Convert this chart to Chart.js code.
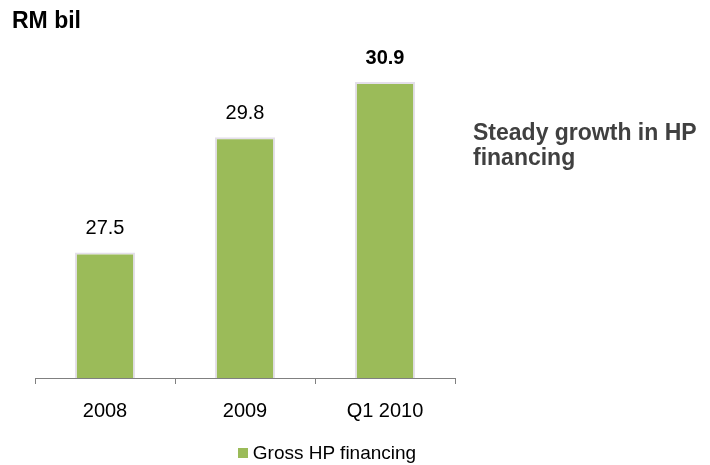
<!DOCTYPE html>
<html>
<head>
<meta charset="utf-8">
<script src="https://cdn.jsdelivr.net/npm/chart.js@4.4.1/dist/chart.umd.min.js"></script>
<style>
    body { margin: 0; background: #fff; font-family: Arial, "Liberation Sans", sans-serif; }
    #wrap { position: relative; width: 710px; height: 465px; }
    #chart { position: absolute; left: 0; top: 0; }
    .unit { position: absolute; left: 12px; top: 7px; font-size: 23px; font-weight: bold; color: #000; }
    .note { position: absolute; left: 473px; top: 120px; font-size: 23px; font-weight: bold; color: #404040; line-height: 25px; }
    #legend { position: absolute; left: 0; top: 442px; width: 654px; text-align: center; font-size: 19px; line-height: 22px; color: #000; }
    #legend span.box { display: inline-block; width: 10px; height: 10px; margin-right: 5px; vertical-align: 1px; }
</style>
</head>
<body>
<div id="wrap">
    <canvas id="chart" width="710" height="465"></canvas>
    <div class="unit">RM bil</div>
    <div class="note">Steady growth in HP<br>financing</div>
    <div id="legend"></div>
</div>
<script>
const categories = ['2008', '2009', 'Q1 2010']
const grossHpFinancing = [27.5, 29.8, 30.9]
const seriesLabel = 'Gross HP financing'

// value labels on top of bars, last one bold
const valueLabels = {
    id: 'valueLabels',
    afterDatasetsDraw(chart) {
        const ctx = chart.ctx
        const meta = chart.getDatasetMeta(0)
        ctx.save()
        ctx.textAlign = 'center'
        ctx.textBaseline = 'middle'
        ctx.fillStyle = '#000'
        meta.data.forEach((bar, i) => {
            const last = i === meta.data.length - 1
            ctx.font = (last ? 'bold ' : '') + '20px Arial, "Liberation Sans", sans-serif'
            ctx.fillText(grossHpFinancing[i].toFixed(1), bar.x, bar.y - 24)
        })
        ctx.restore()
    }
}

const chart = new Chart(document.getElementById('chart').getContext('2d'), {
    type: 'bar',
    data: {
        labels: categories,
        datasets: [{
            label: seriesLabel,
            data: grossHpFinancing,
            backgroundColor: '#9BBB59',
            borderColor: '#e4dfea',
            borderWidth: 2,
            borderSkipped: 'bottom',
            categoryPercentage: 1,
            barPercentage: 0.43,
        }]
    },
    options: {
        responsive: false,
        animation: false,
        layout: { padding: { left: 35, right: 255, top: 52, bottom: 27 } },
        plugins: {
            legend: { display: false },
            tooltip: { enabled: false },
        },
        scales: {
            x: {
                offset: true,
                grid: { offset: true, drawOnChartArea: false, tickLength: 6, color: '#808080' },
                border: { color: '#808080', width: 1 },
                ticks: { color: '#000', padding: 15, font: { size: 20, family: 'Arial, "Liberation Sans", sans-serif' } },
            },
            y: {
                display: false,
                min: 25,
                max: 31.5,
            }
        }
    },
    plugins: [valueLabels]
})

// html legend built from the dataset
const ds = chart.data.datasets[0]
document.getElementById('legend').innerHTML =
    '<span class="box" style="background:' + ds.backgroundColor + '"></span>' + ds.label
</script>
</body>
</html>
